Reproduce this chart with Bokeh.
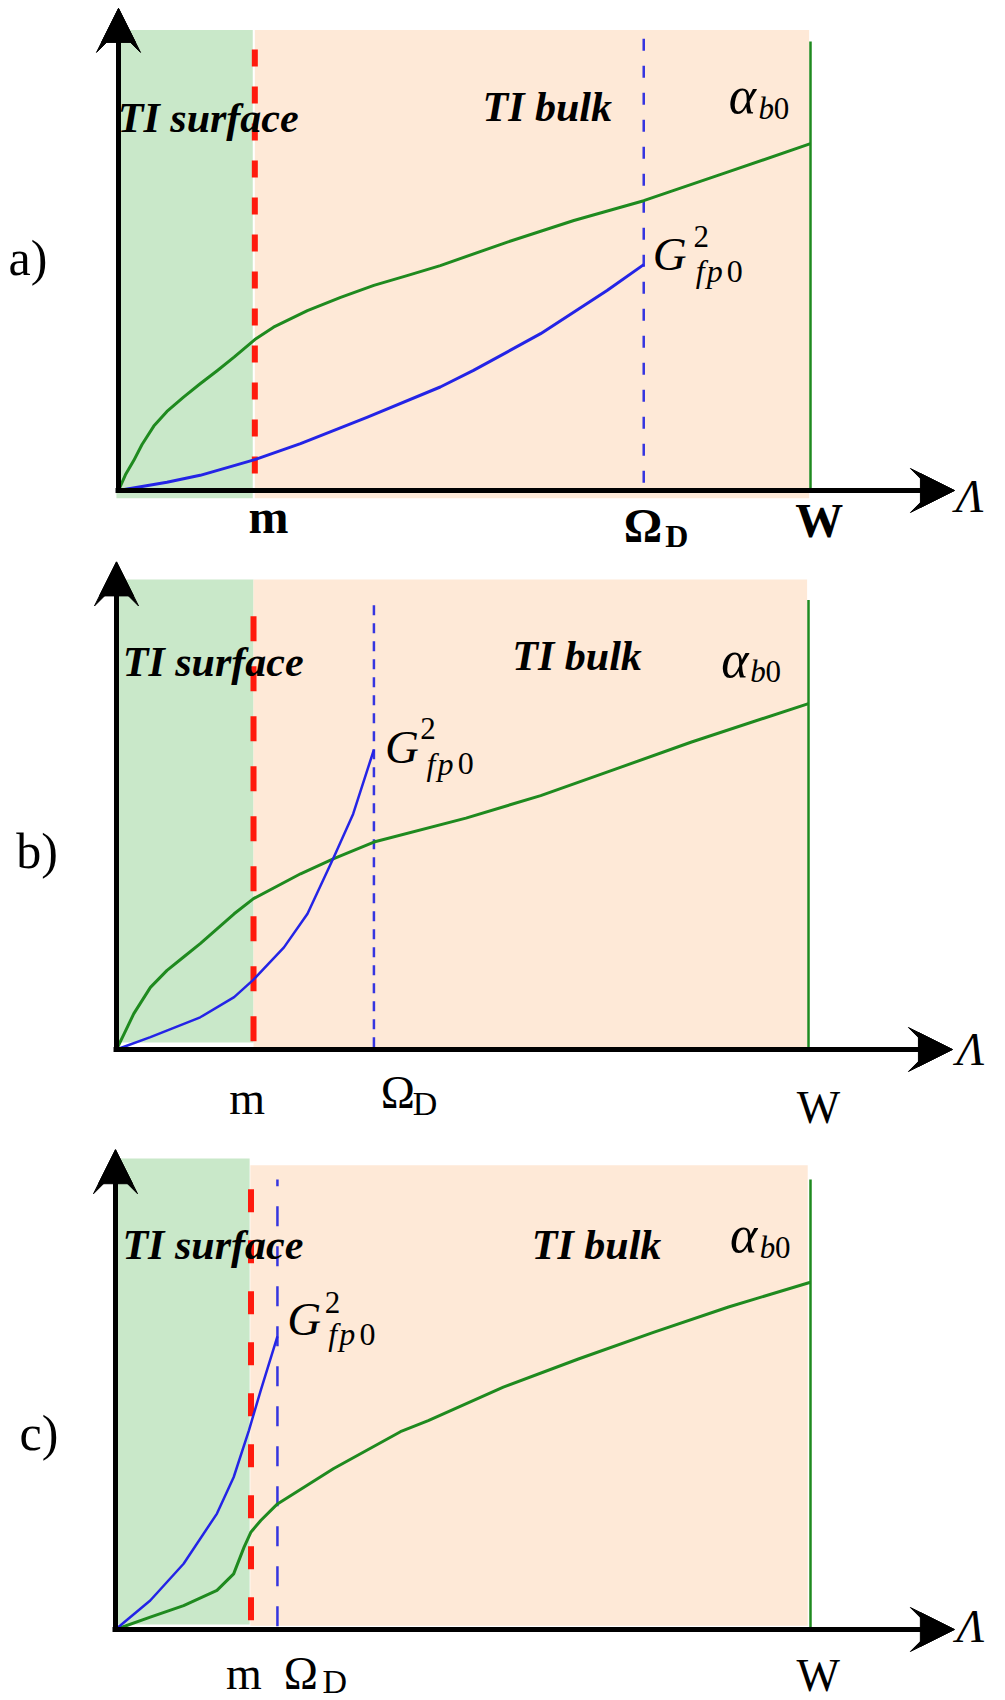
from bokeh.plotting import figure
from bokeh.models import Range1d, Arrow, VeeHead, NormalHead, ColumnDataSource
from bokeh.layouts import column
from bokeh.embed import file_html
from bokeh.resources import INLINE
from bokeh.core.properties import value

# ---------------- values ----------------
panel_names = ["a)", "b)", "c)"]
m_pos = [1.97, 1.98, 1.95]        # Λ = m
omega_pos = [7.59, 3.72, 2.33]    # Λ = Ω_D
w_pos = [10.0, 10.0, 10.0]        # Λ = W

# alpha_b0 (green) and G^2_fp0 (blue) curves
a_green_x = [0, 0.10, 0.22, 0.34, 0.51, 0.70, 0.94, 1.18, 1.43, 1.67, 1.97, 2.24, 2.73, 3.21, 3.69, 4.17, 4.65, 5.62, 6.58, 7.59, 8.80, 10.0]
a_green_y = [0, 0.34, 0.65, 1.00, 1.40, 1.72, 2.03, 2.32, 2.61, 2.90, 3.28, 3.55, 3.91, 4.20, 4.46, 4.67, 4.89, 5.40, 5.87, 6.30, 6.92, 7.54]
a_blue_x = [0, 0.70, 1.18, 1.67, 1.97, 2.63, 3.59, 4.65, 5.13, 6.10, 7.06, 7.59]
a_blue_y = [0, 0.18, 0.33, 0.54, 0.67, 1.02, 1.59, 2.25, 2.61, 3.41, 4.35, 4.91]

b_green_x = [0, 0.11, 0.25, 0.49, 0.73, 0.97, 1.21, 1.70, 1.98, 2.66, 3.14, 3.72, 5.05, 6.13, 7.22, 8.30, 10.0]
b_green_y = [0, 0.34, 0.78, 1.35, 1.72, 2.01, 2.30, 2.95, 3.28, 3.82, 4.15, 4.51, 5.03, 5.52, 6.10, 6.68, 7.52]
b_blue_x = [0, 0.49, 1.21, 1.70, 1.98, 2.42, 2.76, 3.14, 3.42, 3.72]
b_blue_y = [0, 0.27, 0.70, 1.14, 1.52, 2.22, 2.95, 4.18, 5.12, 6.52]

c_green_x = [0, 0.50, 0.98, 1.46, 1.70, 1.85, 1.95, 2.09, 2.33, 3.14, 4.10, 4.50, 5.58, 6.66, 7.74, 8.82, 10.0]
c_green_y = [0, 0.27, 0.52, 0.85, 1.21, 1.79, 2.12, 2.37, 2.73, 3.50, 4.30, 4.54, 5.27, 5.88, 6.46, 7.01, 7.55]
c_blue_x = [0, 0.50, 0.98, 1.46, 1.70, 1.92, 2.09, 2.33]
c_blue_y = [0, 0.63, 1.43, 2.52, 3.31, 4.33, 5.20, 6.37]

green_x = [a_green_x, b_green_x, c_green_x]
green_y = [a_green_y, b_green_y, c_green_y]
blue_x = [a_blue_x, b_blue_x, c_blue_x]
blue_y = [a_blue_y, b_blue_y, c_blue_y]

# shaded regions: TI surface (green) and TI bulk (peach)
surf_left = [-0.03, -0.03, -0.03]
surf_right = [1.94, 1.98, 1.93]
surf_bottom = [-0.17, 0.15, 0.11]
surf_top = [10.01, 10.22, 10.24]
bulk_left = [1.97, 1.98, 1.94]
bulk_right = [9.98, 9.98, 9.96]
bulk_bottom = [-0.17, -0.02, 0.08]
bulk_top = [10.01, 10.22, 10.09]

# extents of vertical marker lines and axes
red_y0 = [0.37, 0.18, 0.20]
red_y1 = [9.87, 9.73, 9.78]
omega_y0 = [0.17, 0.05, 0.07]
omega_y1 = [9.83, 9.77, 9.78]
w_top = [9.76, 9.77, 9.78]
x_axis_end = [12.08, 12.08, 12.07]
y_axis_end = [10.48, 10.60, 10.43]

# ---------------- layout / style ----------------
FIG_W = 1000
fig_tops = [0, 560, 1135]
fig_heights = [560, 575, 565]
origins = [(118, 490), (116, 1049), (115, 1629)]
scale_x = [69.2, 69.2, 69.5]
scale_y = 46.0
BASELINE_SHIFT = 0.28   # em, lifts text so that y is its baseline

red_dash = ["17 20", "25 25", "23 28"]
blue_dash = ["12 15", "10 8", "20 20"]
blue_width = [3, 2.5, 2.5]

SERIF = value("Liberation Serif")
GREEN_LINE = "#1f8a1f"
BLUE_LINE = "#2424e6"
BLUE_DASH = "#3535e0"
RED = "#ff1a0d"
SURF_FILL = "#c9e8c9"
BULK_FILL = "#fee9d7"

# label placements (data units of each panel): text, x, y(baseline), size px, style
labels = [
    [  # a)
        ("a)", -1.59, 4.74, 50, "normal"),
        ("TI surface", -0.01, 7.85, 42, "bold italic"),
        ("TI bulk", 5.26, 8.09, 42, "bold italic"),
        ("α", 8.82, 8.26, 52, "italic"),
        ("b", 9.25, 8.11, 31, "italic"),
        ("0", 9.47, 8.11, 31, "normal"),
        ("G", 7.72, 4.85, 47, "italic"),
        ("2", 8.31, 5.33, 31, "normal"),
        ("f", 8.34, 4.57, 32, "italic"),
        ("p", 8.50, 4.57, 32, "italic"),
        ("0", 8.79, 4.57, 32, "normal"),
        ("m", 1.88, -0.85, 48, "bold"),
        ("Ω", 7.30, -1.06, 48, "bold"),
        ("D", 7.90, -1.19, 32, "bold"),
        ("W", 9.78, -0.94, 48, "bold"),
        ("Λ", 12.10, -0.41, 46, "italic"),
    ],
    [  # b)
        ("b)", -1.45, 4.02, 50, "normal"),
        ("TI surface", 0.09, 8.17, 42, "bold italic"),
        ("TI bulk", 5.72, 8.30, 42, "bold italic"),
        ("α", 8.74, 8.17, 52, "italic"),
        ("b", 9.16, 8.03, 31, "italic"),
        ("0", 9.38, 8.03, 31, "normal"),
        ("G", 3.88, 6.28, 47, "italic"),
        ("2", 4.39, 6.78, 31, "normal"),
        ("f", 4.48, 6.02, 32, "italic"),
        ("p", 4.64, 6.02, 32, "italic"),
        ("0", 4.93, 6.02, 32, "normal"),
        ("m", 1.63, -1.35, 46, "normal"),
        ("Ω", 3.82, -1.22, 46, "normal"),
        ("D", 4.28, -1.37, 34, "normal"),
        ("W", 9.83, -1.54, 46, "normal"),
        ("Λ", 12.14, -0.28, 46, "italic"),
    ],
    [  # c)
        ("c)", -1.38, 3.96, 50, "normal"),
        ("TI surface", 0.10, 8.10, 42, "bold italic"),
        ("TI bulk", 5.99, 8.10, 42, "bold italic"),
        ("α", 8.84, 8.28, 52, "italic"),
        ("b", 9.27, 8.11, 31, "italic"),
        ("0", 9.49, 8.11, 31, "normal"),
        ("G", 2.47, 6.46, 47, "italic"),
        ("2", 3.01, 6.93, 31, "normal"),
        ("f", 3.06, 6.22, 32, "italic"),
        ("p", 3.22, 6.22, 32, "italic"),
        ("0", 3.51, 6.22, 32, "normal"),
        ("m", 1.59, -1.24, 46, "normal"),
        ("Ω", 2.42, -1.24, 46, "normal"),
        ("D", 2.98, -1.33, 34, "normal"),
        ("W", 9.80, -1.28, 46, "normal"),
        ("Λ", 12.10, -0.22, 46, "italic"),
    ],
]


def axis_arrow(p, xs, ys, xe, ye):
    # stealth-like head: a vee head whose notch is partly filled by a triangle
    p.add_layout(Arrow(end=VeeHead(size=44, fill_color="black", line_color="black", line_width=1),
                       x_start=xs, y_start=ys, x_end=xe, y_end=ye,
                       line_color="black", line_width=5))
    p.add_layout(Arrow(end=NormalHead(size=34, fill_color="black", line_color="black", line_width=1),
                       x_start=xs, y_start=ys, x_end=xe, y_end=ye,
                       line_color="black", line_width=5))


def make_panel(i):
    ox, oy = origins[i]
    sx = scale_x[i]
    top = fig_tops[i]
    h = fig_heights[i]
    p = figure(width=FIG_W, height=h, output_backend="svg", toolbar_location=None,
               title=None, x_axis_type=None, y_axis_type=None,
               x_range=Range1d(-ox / sx, (FIG_W - ox) / sx),
               y_range=Range1d((oy - (top + h)) / scale_y, (oy - top) / scale_y),
               min_border=0, outline_line_color=None,
               background_fill_color="white", border_fill_color="white")

    # shaded regions
    p.quad(left=[surf_left[i]], right=[surf_right[i]], bottom=[surf_bottom[i]], top=[surf_top[i]],
           fill_color=SURF_FILL, line_color=None)
    p.quad(left=[bulk_left[i]], right=[bulk_right[i]], bottom=[bulk_bottom[i]], top=[bulk_top[i]],
           fill_color=BULK_FILL, line_color=None)

    # vertical markers
    p.segment(x0=[m_pos[i]], y0=[red_y0[i]], x1=[m_pos[i]], y1=[red_y1[i]],
              line_color=RED, line_width=6, line_dash=red_dash[i])
    p.segment(x0=[omega_pos[i]], y0=[omega_y0[i]], x1=[omega_pos[i]], y1=[omega_y1[i]],
              line_color=BLUE_DASH, line_width=2.5, line_dash=blue_dash[i])
    p.segment(x0=[w_pos[i]], y0=[0], x1=[w_pos[i]], y1=[w_top[i]],
              line_color=GREEN_LINE, line_width=2.5)

    # curves
    p.line(green_x[i], green_y[i], line_color=GREEN_LINE, line_width=3, line_join="round")
    p.line(blue_x[i], blue_y[i], line_color=BLUE_LINE, line_width=blue_width[i], line_join="round")

    # axes with arrows
    axis_arrow(p, -0.04, 0, x_axis_end[i], 0)
    axis_arrow(p, 0, -0.05, 0, y_axis_end[i])

    # labels
    lab = labels[i]
    src = ColumnDataSource(dict(
        x=[l[1] for l in lab], y=[l[2] for l in lab], text=[l[0] for l in lab],
        size=["%dpx" % l[3] for l in lab], style=[l[4] for l in lab],
        yoff=[-BASELINE_SHIFT * l[3] for l in lab]))
    p.text(x="x", y="y", text="text", source=src, text_font=SERIF,
           text_font_size="size", text_font_style="style", y_offset="yoff",
           text_baseline="alphabetic", text_align="left", text_color="black")
    return p


plots = [make_panel(i) for i in range(3)]
layout = column(*plots, spacing=0)

open("out.html", "w").write(file_html(layout, INLINE))
